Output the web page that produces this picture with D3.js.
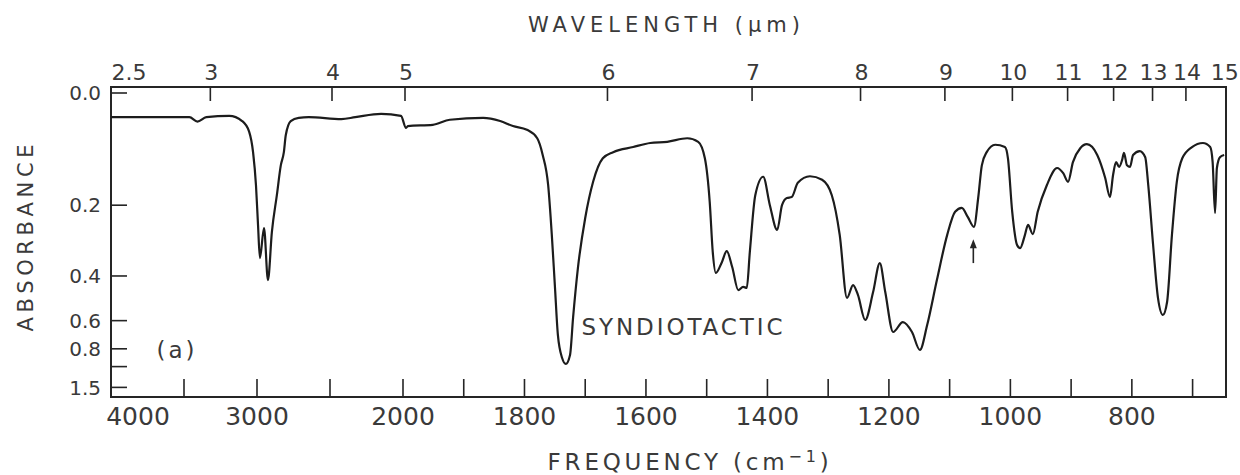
<!DOCTYPE html>
<html><head><meta charset="utf-8">
<script src="https://cdn.jsdelivr.net/npm/d3@7"></script>
<style>body{margin:0;background:#fff} svg{display:block}</style>
</head><body><svg id="c" width="1240" height="475"></svg>
<script>
// ---- data ----
const freq = [4000, 3463, 3408, 3347, 3190, 3102, 3054, 3027, 3007, 2993, 2980, 2952, 2925, 2898, 2864, 2837, 2816, 2803, 2769, 2714, 2646, 2422, 2327, 2150, 2014, 1995, 1992, 1951, 1923, 1868, 1840, 1819, 1796, 1779, 1770, 1761, 1755, 1750, 1745, 1738, 1732, 1725, 1720, 1712, 1700, 1687, 1671, 1654, 1621, 1593, 1565, 1532, 1514, 1503, 1495, 1490, 1485, 1475, 1467, 1458, 1448, 1440, 1434, 1429, 1420, 1407, 1396, 1384, 1376, 1368, 1360, 1350, 1330, 1310, 1294, 1281, 1269, 1259, 1251, 1239, 1226, 1215, 1206, 1193, 1177, 1162, 1149, 1137, 1121, 1104, 1091, 1080, 1070, 1060, 1053, 1047, 1039, 1025, 1009, 1004, 997, 989, 984, 976, 971, 963, 955, 940, 923, 913, 905, 897, 885, 874, 857, 844, 836, 831, 826, 821, 816, 813, 808, 803, 798, 787, 778, 773, 765, 757, 749, 742, 734, 726, 717, 701, 683, 671, 667, 663, 660, 655, 648];
const absorbance = [0.036, 0.036, 0.043, 0.036, 0.034, 0.042, 0.059, 0.094, 0.157, 0.247, 0.340, 0.255, 0.415, 0.265, 0.178, 0.118, 0.094, 0.065, 0.042, 0.037, 0.036, 0.039, 0.036, 0.031, 0.034, 0.053, 0.050, 0.048, 0.040, 0.037, 0.042, 0.050, 0.056, 0.070, 0.099, 0.157, 0.273, 0.434, 0.690, 0.892, 0.964, 0.859, 0.585, 0.372, 0.230, 0.150, 0.105, 0.094, 0.085, 0.078, 0.076, 0.070, 0.076, 0.105, 0.193, 0.322, 0.389, 0.353, 0.319, 0.369, 0.454, 0.441, 0.445, 0.322, 0.178, 0.140, 0.200, 0.260, 0.200, 0.184, 0.182, 0.152, 0.139, 0.146, 0.178, 0.273, 0.487, 0.434, 0.474, 0.596, 0.462, 0.356, 0.462, 0.670, 0.608, 0.670, 0.810, 0.626, 0.415, 0.273, 0.215, 0.206, 0.228, 0.252, 0.184, 0.118, 0.094, 0.081, 0.085, 0.105, 0.215, 0.301, 0.310, 0.273, 0.247, 0.271, 0.215, 0.157, 0.123, 0.133, 0.150, 0.112, 0.087, 0.080, 0.099, 0.142, 0.182, 0.137, 0.112, 0.121, 0.108, 0.095, 0.118, 0.121, 0.099, 0.092, 0.103, 0.157, 0.301, 0.487, 0.569, 0.505, 0.273, 0.150, 0.105, 0.085, 0.078, 0.085, 0.112, 0.218, 0.123, 0.103, 0.099];

const freqTicks = [3500, 3000, 2500, 2000, 1900, 1800, 1700, 1600, 1500, 1400, 1300, 1200, 1100, 1000, 900, 800, 700];
const freqLabels = [4000, 3000, 2000, 1800, 1600, 1400, 1200, 1000, 800];
const wavelengthTicks = [3, 4, 5, 6, 7, 8, 9, 10, 11, 12, 13, 14];
const wavelengthLabels = [2.5, 3, 4, 5, 6, 7, 8, 9, 10, 11, 12, 13, 14, 15];
const absTicks = [0, 0.2, 0.4, 0.6, 0.8, 1.0, 1.5];
const absLabels = ["0.0", "0.2", "0.4", "0.6", "0.8", "", "1.5"];
const arrowFreq = 1061, arrowFrom = 0.356, arrowTo = 0.285;

// ---- layout ----
const L = 111, R = 1226, T = 87, B = 397;
const svg = d3.select("#c");
const ink = "#252525", txt = "#3a3a3a", font = "DejaVu Sans, sans-serif";

// piecewise-linear frequency axis (scale change at 2000 cm-1)
const x = d3.scaleLinear().domain([4000, 2000, 645]).range([L, 403, R]);
// absorbance axis is linear in transmittance
const tScale = d3.scaleLinear().domain([1, 0]).range([93, B]);
const y = a => tScale(Math.pow(10, -a));

// frame
svg.append("rect").attr("x", L).attr("y", T).attr("width", R - L).attr("height", B - T)
  .attr("fill", "none").attr("stroke", ink).attr("stroke-width", 2);

// bottom ticks (inward)
svg.append("g").selectAll("line").data(freqTicks).join("line")
  .attr("x1", d => x(d)).attr("x2", d => x(d)).attr("y1", B).attr("y2", B - 18)
  .attr("stroke", ink).attr("stroke-width", 1.6);
svg.append("g").selectAll("text").data(freqLabels).join("text")
  .attr("x", d => x(d) + (d === 4000 ? 27 : 0)).attr("y", 425)
  .attr("text-anchor", "middle").attr("font-family", font).attr("font-size", 25).attr("fill", txt)
  .text(d => d);

// top wavelength ticks (inward)
svg.append("g").selectAll("line").data(wavelengthTicks).join("line")
  .attr("x1", d => x(10000 / d) + 2).attr("x2", d => x(10000 / d) + 2).attr("y1", T).attr("y2", T + 14)
  .attr("stroke", ink).attr("stroke-width", 1.6);
svg.append("g").selectAll("text").data(wavelengthLabels).join("text")
  .attr("x", d => x(10000 / d) + (d === 2.5 ? 18 : d === 15 ? 12 : 3)).attr("y", 80)
  .attr("text-anchor", "middle").attr("font-family", font).attr("font-size", 22).attr("fill", txt)
  .text(d => d);

// left absorbance ticks
svg.append("g").selectAll("line").data(absTicks).join("line")
  .attr("x1", L).attr("x2", L + 16).attr("y1", d => y(d)).attr("y2", d => y(d))
  .attr("stroke", ink).attr("stroke-width", 1.6);
svg.append("g").selectAll("text").data(absTicks).join("text")
  .attr("x", 101).attr("y", d => y(d)).attr("dy", "0.36em")
  .attr("text-anchor", "end").attr("font-family", font).attr("font-size", 20).attr("fill", txt)
  .text((d, i) => absLabels[i]);

// spectrum
const pts = freq.map((f, i) => ({ f, a: absorbance[i] }));
svg.append("path").datum(pts)
  .attr("d", d3.line().x(d => x(d.f)).y(d => y(d.a)).curve(d3.curveMonotoneX))
  .attr("fill", "none").attr("stroke", "#1c1c1c").attr("stroke-width", 2.2).attr("stroke-linejoin", "round");

// arrow annotation
const ax = x(arrowFreq);
svg.append("line").attr("x1", ax).attr("x2", ax).attr("y1", y(arrowFrom)).attr("y2", y(arrowTo) + 6)
  .attr("stroke", ink).attr("stroke-width", 1.6);
svg.append("path")
  .attr("d", d3.line()([[ax - 3.5, y(arrowTo) + 9], [ax, y(arrowTo)], [ax + 3.5, y(arrowTo) + 9]]) + "Z")
  .attr("fill", ink);

// titles and labels
svg.append("text").attr("x", 664).attr("y", 32).attr("text-anchor", "middle")
  .attr("font-family", font).attr("font-size", 21).attr("fill", txt)
  .attr("textLength", 272).attr("lengthAdjust", "spacing").text("WAVELENGTH (\u03bcm)");

const fq = svg.append("text").attr("x", 690).attr("y", 470).attr("text-anchor", "middle")
  .attr("font-family", font).attr("font-size", 23).attr("fill", txt).attr("letter-spacing", 3.8);
fq.append("tspan").text("FREQUENCY  (cm");
fq.append("tspan").attr("dy", -8).attr("font-size", 16).text("\u22121");
fq.append("tspan").attr("dy", 8).text(")");

svg.append("text").attr("transform", "translate(33,238) rotate(-90)").attr("text-anchor", "middle")
  .attr("font-family", font).attr("font-size", 21).attr("fill", txt)
  .attr("textLength", 187).attr("lengthAdjust", "spacing").text("ABSORBANCE");

svg.append("text").attr("x", 682).attr("y", 335).attr("text-anchor", "middle")
  .attr("font-family", font).attr("font-size", 23).attr("fill", txt)
  .attr("textLength", 201).attr("lengthAdjust", "spacing").text("SYNDIOTACTIC");

svg.append("text").attr("x", 177).attr("y", 358).attr("text-anchor", "middle")
  .attr("font-family", font).attr("font-size", 23).attr("fill", txt).attr("letter-spacing", 3)
  .text("(a)");
</script></body></html>
